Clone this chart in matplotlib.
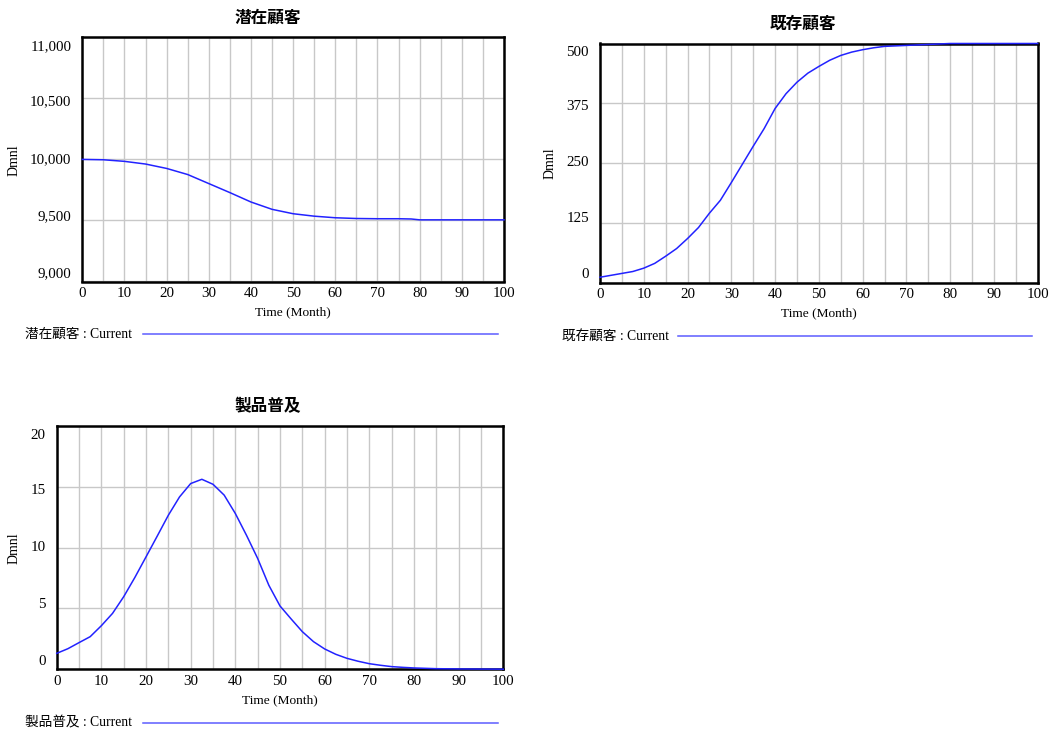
import matplotlib
matplotlib.use("Agg")
import matplotlib.pyplot as plt
import matplotlib.transforms as mtransforms
from matplotlib.lines import Line2D

# ---------------- data ----------------
t_potential = [0, 5, 10, 15, 20, 25, 30, 35, 40, 45, 50, 55, 60, 65, 70, 75, 78, 80, 85, 90, 95, 100]
potential = [10000, 9997, 9984, 9962, 9926, 9876, 9802, 9728, 9651, 9591, 9555,
             9535, 9522, 9516, 9514, 9514, 9512, 9505, 9505, 9505, 9505, 9505]

t_existing = [0, 2.5, 5, 7.5, 10, 12.5, 15, 17.5, 20, 22.5, 25, 27.5, 30, 32.5, 35, 37.5,
              40, 42.5, 45, 47.5, 50, 52.5, 55, 57.5, 60, 62.5, 65, 67.5, 70, 75, 80, 90, 100]
existing = [11, 15, 19, 23, 30, 40, 55, 71, 92, 115, 145, 172, 209, 247, 285, 322,
            364, 395, 419, 438, 452, 465, 475, 482, 487, 491, 494, 495, 496, 498, 500, 500, 500]

t_adoption = [0, 2.5, 5, 7.5, 10, 12.5, 15, 17.5, 20, 22.5, 25, 27.5, 30, 32.5, 35, 37.5,
              40, 42.5, 45, 47.5, 50, 52.5, 55, 57.5, 60, 62.5, 65, 67.5, 70, 72.5, 75,
              77.5, 80, 85, 90, 95, 100]
adoption = [1.31, 1.69, 2.19, 2.68, 3.58, 4.59, 5.96, 7.54, 9.23, 10.93, 12.65, 14.15,
            15.25, 15.6, 15.19, 14.3, 12.79, 11.0, 9.1, 6.9, 5.2, 4.13, 3.09, 2.27, 1.67,
            1.23, 0.90, 0.66, 0.46, 0.33, 0.22, 0.16, 0.11, 0.05, 0.03, 0.02, 0.01]

x_ticks = [0, 10, 20, 30, 40, 50, 60, 70, 80, 90, 100]
yticks_potential = [9000, 9500, 10000, 10500, 11000]
ylabels_potential = ["9,000", "9,500", "10,000", "10,500", "11,000"]
yticks_existing = [0, 125, 250, 375, 500]
ylabels_existing = ["0", "125", "250", "375", "500"]
yticks_adoption = [0, 5, 10, 15, 20]
ylabels_adoption = ["0", "5", "10", "15", "20"]

titles = ["潜在顧客", "既存顧客", "製品普及"]
x_label = "Time (Month)"
y_label = "Dmnl"
legend_suffix = " : Current"

# ---------------- style ----------------
W, H = 1052, 733
LINE = "#2222ff"
LEG_LINE = "#5c5cff"
GRID = "#c8c8c8"
SERIF = ["Liberation Serif", "Noto Sans CJK JP"]
CJK = ["Noto Sans CJK JP", "DejaVu Sans"]
label_shift_px = [8, 4, 0, -3.5, -9.5]  # Vensim-like squeeze of y tick labels

fig = plt.figure(figsize=(W / 100, H / 100), dpi=100)


def fx(x):
    return x / W


def fy(y):
    return 1 - y / H


def panel(box, t, y, yticks, ylabels, title, title_xy, ylab_xy, xlab_xy, leg_xy, leg_line):
    l, top, r, b = box
    ax = fig.add_axes([fx(l), fy(b), (r - l) / W, (b - top) / H])
    ax.plot(t, y, color=LINE, lw=1.1, clip_on=False, zorder=5)
    ax.set_xlim(0, 100)
    ax.set_ylim(yticks[0], yticks[-1])
    ax.set_xticks(x_ticks)
    ax.set_xticks(range(0, 101, 5), minor=True)
    ax.set_yticks(yticks)
    ax.grid(True, which="both", axis="x", color=GRID, lw=1)
    ax.grid(True, which="major", axis="y", color=GRID, lw=1)
    ax.set_axisbelow(True)
    ax.tick_params(which="both", length=0)
    ax.tick_params(axis="x", pad=4, labelsize=10.8)
    ax.tick_params(axis="y", labelleft=False)
    for lab in ax.get_xticklabels():
        lab.set_family(SERIF)
    for s in ax.spines.values():
        s.set_linewidth(1.8)
        s.set_color("black")
    base = mtransforms.blended_transform_factory(ax.transAxes, ax.transData)
    for v, s, sh in zip(yticks, ylabels, label_shift_px):
        tr = base + mtransforms.ScaledTranslation(-11 / 100, sh / 100, fig.dpi_scale_trans)
        ax.text(0, v, s, transform=tr, ha="right", va="center", fontsize=10.8, family=SERIF)
    fig.text(fx(title_xy[0]), fy(title_xy[1]), title, ha="center", va="center",
             fontsize=12, fontweight="bold", family=CJK)
    fig.text(fx(ylab_xy[0]), fy(ylab_xy[1]), y_label, ha="center", va="center",
             rotation=90, fontsize=10, family=SERIF)
    fig.text(fx(xlab_xy[0]), fy(xlab_xy[1]), x_label, ha="center", va="center",
             fontsize=9.6, family=SERIF)
    fig.text(fx(leg_xy[0]), fy(leg_xy[1]), title + legend_suffix, ha="left", va="center",
             fontsize=9.8, family=SERIF)
    fig.add_artist(Line2D([fx(leg_line[0]), fx(leg_line[1])], [fy(leg_xy[1])] * 2,
                          color=LEG_LINE, lw=1.1))
    return ax


panel((82.3, 37.3, 504, 281.5), t_potential, potential, yticks_potential, ylabels_potential,
      titles[0], (268, 17.5), (14, 160), (293, 312), (25, 334.5), (143, 498))
panel((600, 43.5, 1037.7, 282.5), t_existing, existing, yticks_existing, ylabels_existing,
      titles[1], (803, 24), (550, 163), (819, 313), (562, 336), (678, 1032))
panel((56.7, 425.7, 503.3, 669.3), t_adoption, adoption, yticks_adoption, ylabels_adoption,
      titles[2], (268, 406), (14, 548), (280, 700), (25, 722.5), (143, 498))

fig.savefig("out.png", dpi=100)
